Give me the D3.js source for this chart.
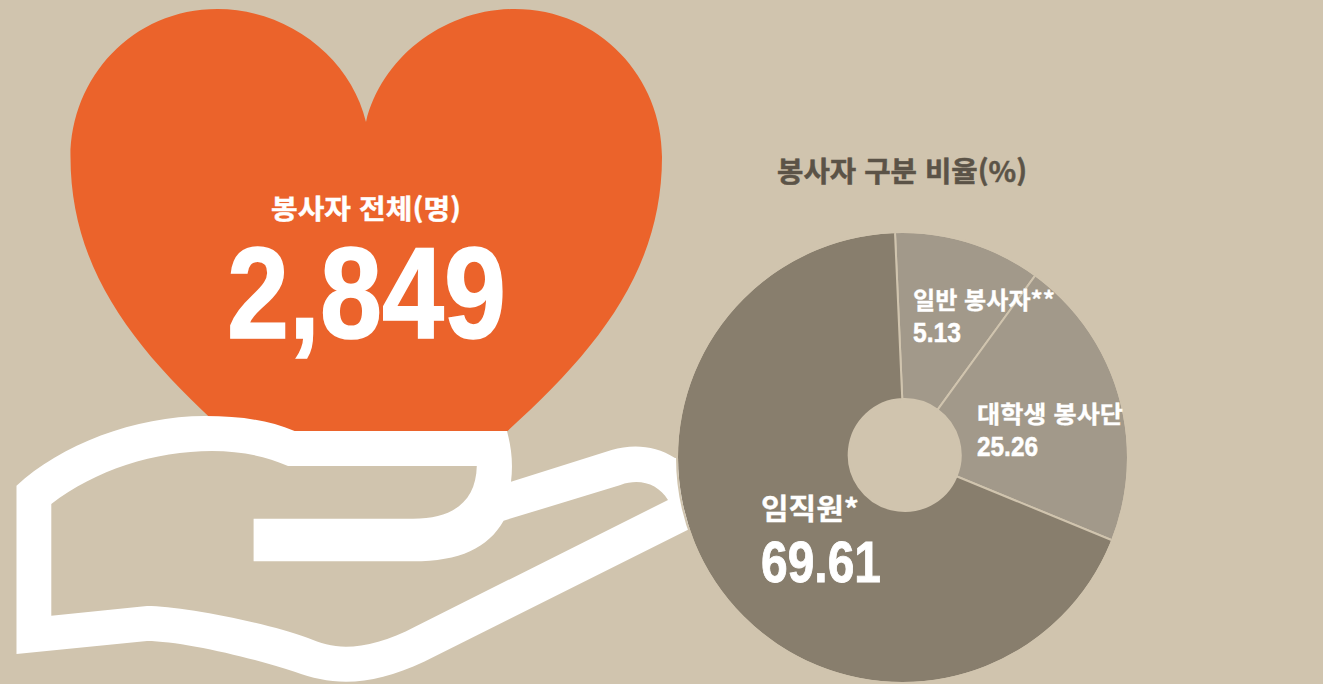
<!DOCTYPE html>
<html lang="ko"><head><meta charset="utf-8">
<script src="https://cdnjs.cloudflare.com/ajax/libs/d3/7.8.5/d3.min.js"></script>
<style>html,body{margin:0;padding:0;background:#d0c4ae;overflow:hidden}svg{display:block}
text{font-family:"Noto Sans CJK KR","Liberation Sans",sans-serif;font-weight:700}
.num{font-family:"Liberation Sans Narrow","Liberation Sans",sans-serif}</style></head>
<body><svg id="c" width="1323" height="684"></svg>
<script>
// categories and labels, as printed
const categories = ["일반 봉사자**", "대학생 봉사단", "임직원*"];
const printedValues = ["5.13", "25.26", "69.61"];
// slice sizes as drawn in the picture (share of the circle, %)
const drawnShares = [10.7, 21.2, 68.1];
const sliceColors = ["#a2998a", "#a2998a", "#887e6d"];
const chartTitle = "봉사자 구분 비율(%)";
const totalLabel = "봉사자 전체(명)";
const totalValue = "2,849";

const svg = d3.select("#c");
const BG = "#d0c4ae";
svg.append("rect").attr("width",1323).attr("height",684).attr("fill",BG);

// heart
svg.append("path").attr("fill","#eb632b").attr("d",
 "M366,122 C351,58 288,9 217.6,9 C132,9 70.5,78 70.5,157 C70.5,270 135,350 224.5,431 L507.5,431 C597,350 662,270 662,157 C662,78 600,9 514.4,9 C444,9 381,58 366,122 Z");

// hand
svg.append("path").attr("fill","#fff").attr("fill-rule","evenodd").attr("d",
 "M16.5,485.7 C60,445 135,416 205,416 C240,416 268,420 294.6,431 L507,431 C512,450 513,465 511,481.7 L611.6,450 C632,444 655,445 675,458 L700,458 L700,520 L687.5,530 L424,661.7 C395,675 370,681.7 346,681.7 C328,681.7 312,678 294.6,671.7 C250,657 180,641 147,641 L16.5,654 Z " +
 "M51.3,504 C95,470 155,451 212,451 C240,451 265,456 288,466 L476.8,466 C476,500 455,518.7 413,518.7 L253.6,518.7 L253.6,561.3 L413,561.3 C460,561.3 488,548 503.6,520.7 L620.5,485 C640,478 658,484 668,500 L415,626.7 C390,640 365,646.7 346,646.7 C332,646.7 320,643 308,638 C265,622 180,606 147,606 L51.3,615.7 Z");

// heart text
function fit(sel, x, y, w, size, cls, heavy){
  sel.attr("x",x).attr("y",y).attr("font-size",size).attr("fill","#fff")
     .attr("textLength",w).attr("lengthAdjust","spacingAndGlyphs");
  if(cls) sel.attr("class",cls);
  if(heavy) sel.attr("stroke","#fff").attr("stroke-width",heavy);
  return sel;
}
fit(svg.append("text").text(totalLabel),271,219,190,27,null,0.4);
fit(svg.append("text").text(totalValue),227,338,279,130,"num",1.6);

// title
fit(svg.append("text").text(chartTitle),777,182,250,28,null,0.5).attr("fill","#5b5347").attr("stroke","#5b5347");

// donut: the slices converge on the hole's centre, which sits slightly off the rim's centre
const deg = Math.PI/180;
const rimX = 902.5, rimY = 457.5, rimR = 224.5;
const holeX = 904.7, holeY = 455;
svg.append("clipPath").attr("id","rim").append("circle").attr("cx",rimX).attr("cy",rimY).attr("r",rimR);
const pie = d3.pie().sort(null).startAngle(-2.5*deg).endAngle(357.5*deg);
const arc = d3.arc().innerRadius(56).outerRadius(300);
svg.append("g").attr("clip-path","url(#rim)")
  .append("g").attr("transform",`translate(${holeX},${holeY})`)
  .selectAll("path").data(pie(drawnShares)).join("path")
  .attr("d",arc).attr("fill",(d,i)=>sliceColors[i])
  .attr("stroke",BG).attr("stroke-width",2);
svg.append("circle").attr("cx",rimX).attr("cy",rimY).attr("r",rimR+1)
  .attr("fill","none").attr("stroke",BG).attr("stroke-width",2);

// slice labels
const labelBox = [
  {lx:913,ly:309,lw:142,ls:24, vx:913,vy:342,vw:48,vs:27,h:0.5},
  {lx:977,ly:423,lw:146,ls:24, vx:977,vy:456,vw:61,vs:27,h:0.5},
  {lx:761,ly:520,lw:98,ls:29, vx:761,vy:582,vw:120,vs:57,h:0.9}
];
categories.forEach((c,i)=>{
  const b = labelBox[i];
  fit(svg.append("text").text(c),b.lx,b.ly,b.lw,b.ls,null,0.3);
  fit(svg.append("text").text(printedValues[i]),b.vx,b.vy,b.vw,b.vs,"num",b.h);
});
</script></body></html>
